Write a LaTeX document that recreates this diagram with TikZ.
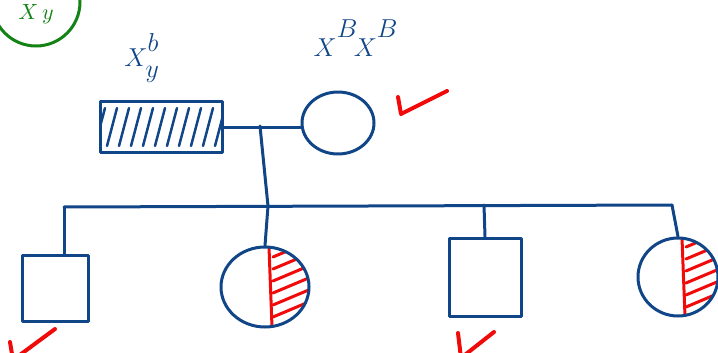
\documentclass[tikz,border=0pt]{standalone}
\usetikzlibrary{shapes.geometric}
\usepackage{xcolor}
\usepackage{graphicx}
\definecolor{penblue}{RGB}{16,70,135}
\definecolor{penred}{RGB}{240,10,10}
\definecolor{pengreen}{RGB}{20,130,20}

\begin{document}
\begin{tikzpicture}[
    x=1pt, y=-1pt,        % pixel-like units, y runs downwards
    pen/.style = {draw=penblue, line width=3pt, line cap=round, line join=round},
    redpen/.style = {draw=penred, line width=3pt, line cap=round},
    male/.style = {
        rectangle, pen, inner sep=0pt,
        minimum width=66pt, minimum height=66pt
    },
    female/.style = {
        ellipse, pen, inner sep=0pt,
        minimum width=88pt, minimum height=80pt
    },
    affected/.style = {path picture={
        \foreach \k in {-66,-54,...,66}
            \draw[penblue, line width=2.5pt, line cap=round]
                ([xshift=\k pt, yshift=-19pt]path picture bounding box.center)
                -- ([xshift=\k pt+10pt, yshift=19pt]path picture bounding box.center);
    }},
    carrier/.style = {path picture={
        \draw[redpen] ([xshift=4pt]path picture bounding box.north)
            -- ([xshift=7pt]path picture bounding box.south);
        \foreach \k in {-36,-24,...,36}
            \draw[redpen]
                ([xshift=8pt, yshift=\k pt-6pt]path picture bounding box.center)
                -- ([xshift=46pt, yshift=\k pt+10pt]path picture bounding box.center);
    }},
    geno/.style = {text=penblue, font=\LARGE, inner sep=0pt},
    check/.style = {draw=penred, line width=4pt, line cap=round, line join=round}
]
\useasboundingbox (0,0) rectangle (718,353);
\clip (0,0) rectangle (718,353);

% --- tag in the corner ---
\node[circle, draw=pengreen, line width=3pt, minimum size=88pt, inner sep=0pt,
      label={[text=pengreen, inner sep=0pt, yshift=-12pt]center:\scalebox{2.2}{$X\,y$}}]
    (tag) at (36,2) {};

% --- parents ---
\node[male, affected, minimum width=122pt, minimum height=50pt] (father) at (161,127) {};
\node[female, minimum width=72pt, minimum height=62pt]         (mother) at (338,123) {};

\node[geno] (fgeno) at (142,58)
    {\scalebox{1.5}{$X^{\raisebox{0.5ex}{$\textstyle b$}}_{\raisebox{-0.4ex}{$\textstyle y$}}$}};
\node[geno] (mgeno) at (356,38)
    {\scalebox{1.5}{$X^{\raisebox{0.9ex}{$\textstyle B$}}\!X^{\raisebox{0.9ex}{$\textstyle B$}}$}};

% --- children ---
\node[male]                                                   (son1) at ( 55,288) {};
\node[female, carrier]                                        (dau1) at (265,287) {};
\node[male, minimum width=72pt, minimum height=78pt]          (son2) at (485,277) {};
\node[female, carrier, minimum width=80pt, minimum height=78pt] (dau2) at (678,277) {};

% --- lines of descent ---
\coordinate (wed) at (260,126);
\coordinate (hub) at (268,206);
\coordinate (s1)  at ( 64,207);
\coordinate (s3)  at (484,205);
\coordinate (s4)  at (672,205);

\draw[pen] (father.east) -- (father.east -| mother.west);
\draw[pen] (wed) -- (hub);
\draw[pen] (s1) -- (s4);
\draw[pen] (s1)  -- (s1 |- son1.north);
\draw[pen] (hub) -- (dau1.north);
\draw[pen] (s3)  -- (son2.north);
\draw[pen] (s4)  -- (dau2.north);

% --- ticks ---
\draw[check] (398,97) -- (401,114) -- (447,91);
\draw[check] (10,342) -- (13,360) -- (55,329);
\draw[check] (458,333) -- (461,358) -- (494,332);

\end{tikzpicture}
\end{document}
